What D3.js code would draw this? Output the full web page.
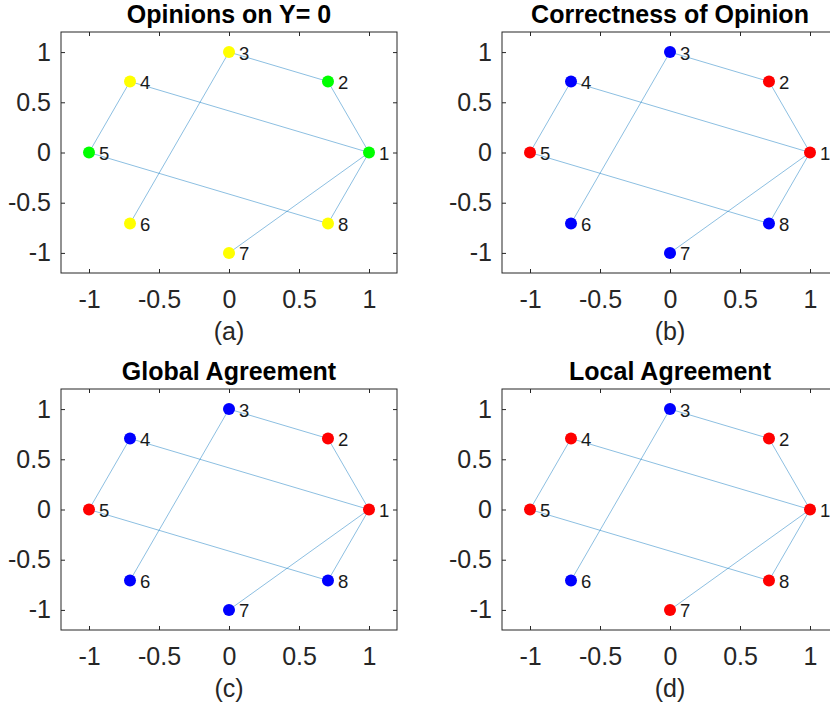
<!DOCTYPE html>
<html>
<head>
<meta charset="utf-8">
<script src="https://cdn.jsdelivr.net/npm/d3@7/dist/d3.min.js"></script>
<style>
  html, body { margin: 0; padding: 0; background: #fff; overflow: hidden; }
  svg { display: block; font-family: "Liberation Sans", Arial, Helvetica, sans-serif; }
</style>
</head>
<body>
<svg id="chart" width="830" height="711"></svg>
<script>
// Graph: 8 nodes on a circle, 8 undirected edges
const nodeIds = [1, 2, 3, 4, 5, 6, 7, 8];
const nodeX = [1, 0.7071, 0, -0.7071, -1, -0.7071, 0, 0.7071];
const nodeY = [0, 0.7071, 1, 0.7071, 0, -0.7071, -1, -0.7071];
const edgeSource = [1, 2, 1, 1, 1, 3, 4, 5];
const edgeTarget = [2, 3, 4, 7, 8, 6, 5, 8];

// Panel titles, captions and node colours (per node, in node order)
const titles = ["Opinions on Y= 0", "Correctness of Opinion", "Global Agreement", "Local Agreement"];
const captions = ["(a)", "(b)", "(c)", "(d)"];
const colorsA = ["g", "g", "y", "y", "g", "y", "y", "y"];
const colorsB = ["r", "r", "b", "b", "r", "b", "b", "b"];
const colorsC = ["r", "r", "b", "b", "r", "b", "b", "b"];
const colorsD = ["r", "r", "b", "r", "r", "b", "r", "r"];
const panelColors = [colorsA, colorsB, colorsC, colorsD];

const tickValues = [-1, -0.5, 0, 0.5, 1];
const tickLabels = ["-1", "-0.5", "0", "0.5", "1"];
const axisDomain = [-1.2, 1.2];

const colorMap = { g: "#00ff00", y: "#ffff00", r: "#ff0000", b: "#0000ff" };

// Layout of the 2x2 grid
const panelLeft = [61, 502, 61, 502];
const panelTop = [32, 32, 389, 389];
const W = 336, H = 241;
const axisColor = "#262626";

const svg = d3.select("#chart");

titles.forEach((title, p) => {
  const g = svg.append("g").attr("transform", `translate(${panelLeft[p]},${panelTop[p]})`);
  const x = d3.scaleLinear().domain(axisDomain).range([0, W]);
  const y = d3.scaleLinear().domain(axisDomain).range([H, 0]);
  const fmt = v => tickLabels[tickValues.indexOf(v)];

  // axes with inward ticks on all four sides
  const bottom = g.append("g").attr("transform", `translate(0,${H})`)
    .call(d3.axisBottom(x).tickValues(tickValues).tickFormat(fmt).tickSize(-4).tickPadding(17));
  const left = g.append("g")
    .call(d3.axisLeft(y).tickValues(tickValues).tickFormat(fmt).tickSize(-4).tickPadding(10));
  const top = g.append("g")
    .call(d3.axisTop(x).tickValues(tickValues).tickFormat("").tickSize(-4));
  const right = g.append("g").attr("transform", `translate(${W},0)`)
    .call(d3.axisRight(y).tickValues(tickValues).tickFormat("").tickSize(-4));
  [bottom, left, top, right].forEach(a => {
    a.select(".domain").remove();
    a.selectAll(".tick line").attr("stroke", axisColor);
    a.selectAll(".tick text").attr("fill", axisColor).style("font-size", "25px")
      .style("font-family", "'Liberation Sans', Arial, sans-serif");
  });
  g.append("rect").attr("x", 0).attr("y", 0).attr("width", W).attr("height", H)
    .attr("fill", "none").attr("stroke", axisColor).attr("stroke-width", 1);

  // edges
  g.append("g").selectAll("line").data(edgeSource.map((s, i) => [s, edgeTarget[i]]))
    .join("line")
    .attr("x1", d => x(nodeX[d[0] - 1])).attr("y1", d => y(nodeY[d[0] - 1]))
    .attr("x2", d => x(nodeX[d[1] - 1])).attr("y2", d => y(nodeY[d[1] - 1]))
    .attr("stroke", "#0072bd").attr("stroke-opacity", 0.45).attr("stroke-width", 1);

  // nodes
  const cols = panelColors[p];
  g.append("g").selectAll("circle").data(nodeIds).join("circle")
    .attr("cx", (d, i) => x(nodeX[i])).attr("cy", (d, i) => y(nodeY[i]))
    .attr("r", 6).attr("fill", (d, i) => colorMap[cols[i]]);

  // node labels
  g.append("g").selectAll("text").data(nodeIds).join("text")
    .attr("x", (d, i) => x(nodeX[i]) + 10).attr("y", (d, i) => y(nodeY[i]) + 7.5)
    .attr("fill", "#1a1a1a").style("font-size", "18.5px").text(d => d);

  // title and caption
  g.append("text").attr("x", W / 2).attr("y", -9).attr("text-anchor", "middle")
    .attr("font-weight", "bold").style("font-size", "25px").attr("fill", "#000").text(title);
  g.append("text").attr("x", W / 2).attr("y", H + 67).attr("text-anchor", "middle")
    .style("font-size", "25px").attr("fill", axisColor).text(captions[p]);
});
</script>
</body>
</html>
